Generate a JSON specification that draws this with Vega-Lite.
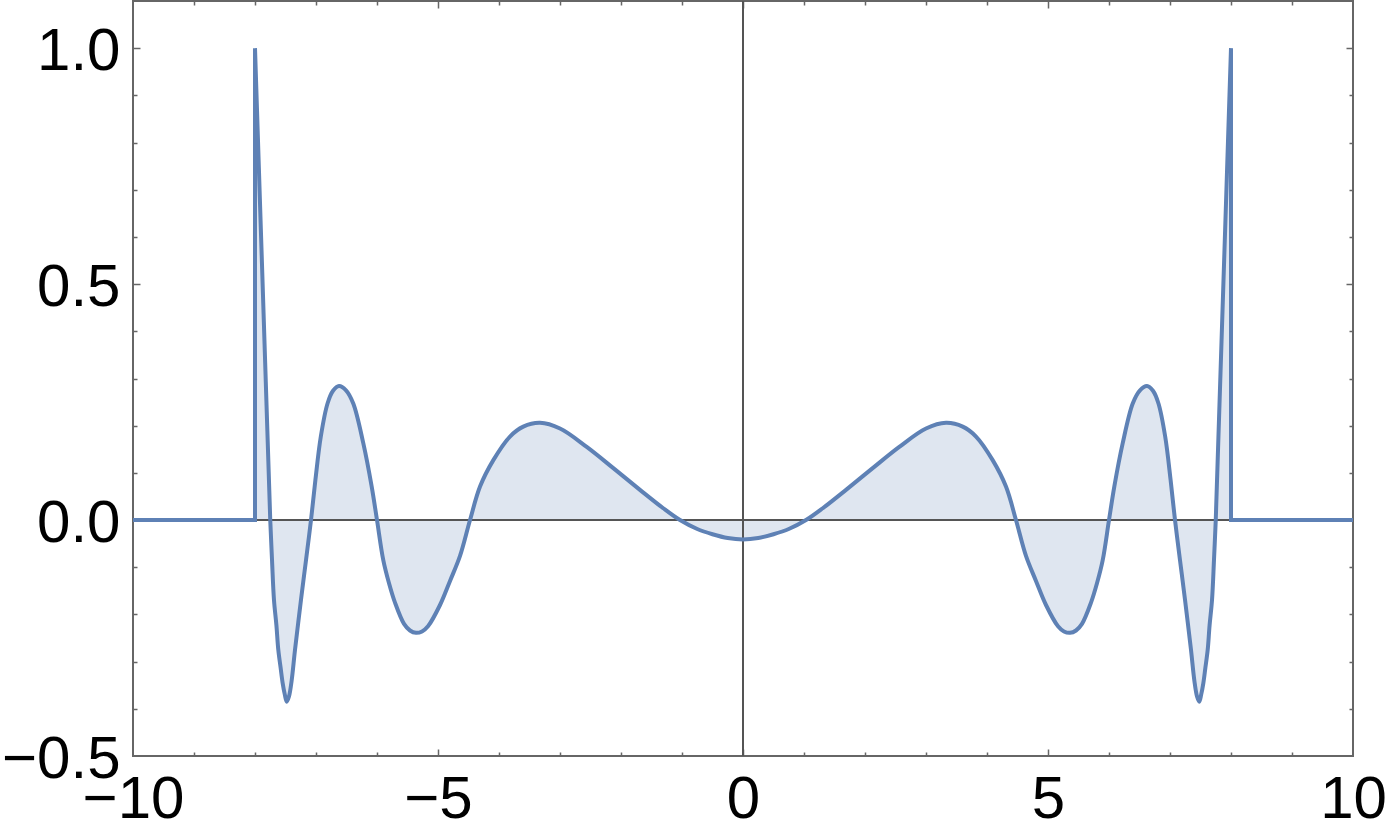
{
  "$schema": "https://vega.github.io/schema/vega-lite/v6.json",
  "autosize": "none",
  "width": 1220,
  "height": 755,
  "padding": {"left": 133, "top": 1, "right": 36, "bottom": 80},
  "background": "white",
  "config": {
    "view": {"stroke": "#666666", "strokeWidth": 2},
    "axis": {"labelFont": "Liberation Sans", "labelFontSize": 60, "labelColor": "black", "title": null, "grid": false, "domain": false}
  },
  "data": {"values": [
    {"x": -10, "y": 0},
    {"x": -8.0, "y": 0},
    {"x": -8.0, "y": 1.0},
    {"x": -7.75, "y": 0},
    {"x": -7.721, "y": -0.085},
    {"x": -7.689, "y": -0.169},
    {"x": -7.649, "y": -0.223},
    {"x": -7.618, "y": -0.275},
    {"x": -7.58, "y": -0.313},
    {"x": -7.546, "y": -0.346},
    {"x": -7.511, "y": -0.37},
    {"x": -7.48, "y": -0.385},
    {"x": -7.443, "y": -0.374},
    {"x": -7.4, "y": -0.341},
    {"x": -7.344, "y": -0.275},
    {"x": -7.246, "y": -0.169},
    {"x": -7.164, "y": -0.085},
    {"x": -7.082, "y": 0},
    {"x": -7.01, "y": 0.085},
    {"x": -6.921, "y": 0.177},
    {"x": -6.811, "y": 0.247},
    {"x": -6.721, "y": 0.274},
    {"x": -6.623, "y": 0.284},
    {"x": -6.508, "y": 0.275},
    {"x": -6.389, "y": 0.247},
    {"x": -6.225, "y": 0.163},
    {"x": -6.087, "y": 0.071},
    {"x": -6.0, "y": 0},
    {"x": -5.897, "y": -0.085},
    {"x": -5.803, "y": -0.134},
    {"x": -5.705, "y": -0.175},
    {"x": -5.557, "y": -0.22},
    {"x": -5.459, "y": -0.234},
    {"x": -5.361, "y": -0.239},
    {"x": -5.262, "y": -0.236},
    {"x": -5.164, "y": -0.225},
    {"x": -4.967, "y": -0.18},
    {"x": -4.803, "y": -0.129},
    {"x": -4.639, "y": -0.076},
    {"x": -4.475, "y": 0},
    {"x": -4.311, "y": 0.071},
    {"x": -4.093, "y": 0.127},
    {"x": -3.82, "y": 0.177},
    {"x": -3.602, "y": 0.198},
    {"x": -3.328, "y": 0.206},
    {"x": -3.0, "y": 0.194},
    {"x": -2.562, "y": 0.155},
    {"x": -2.126, "y": 0.11},
    {"x": -1.689, "y": 0.064},
    {"x": -1.307, "y": 0.025},
    {"x": -1.033, "y": 0},
    {"x": -0.75, "y": -0.019},
    {"x": -0.5, "y": -0.03},
    {"x": -0.25, "y": -0.038},
    {"x": 0, "y": -0.041},
    {"x": 0.25, "y": -0.038},
    {"x": 0.5, "y": -0.03},
    {"x": 0.75, "y": -0.019},
    {"x": 1.033, "y": 0},
    {"x": 1.307, "y": 0.025},
    {"x": 1.689, "y": 0.064},
    {"x": 2.126, "y": 0.11},
    {"x": 2.562, "y": 0.155},
    {"x": 3.0, "y": 0.194},
    {"x": 3.328, "y": 0.206},
    {"x": 3.602, "y": 0.198},
    {"x": 3.82, "y": 0.177},
    {"x": 4.093, "y": 0.127},
    {"x": 4.311, "y": 0.071},
    {"x": 4.475, "y": 0},
    {"x": 4.639, "y": -0.076},
    {"x": 4.803, "y": -0.129},
    {"x": 4.967, "y": -0.18},
    {"x": 5.164, "y": -0.225},
    {"x": 5.262, "y": -0.236},
    {"x": 5.361, "y": -0.239},
    {"x": 5.459, "y": -0.234},
    {"x": 5.557, "y": -0.22},
    {"x": 5.705, "y": -0.175},
    {"x": 5.803, "y": -0.134},
    {"x": 5.897, "y": -0.085},
    {"x": 6.0, "y": 0},
    {"x": 6.087, "y": 0.071},
    {"x": 6.225, "y": 0.163},
    {"x": 6.389, "y": 0.247},
    {"x": 6.508, "y": 0.275},
    {"x": 6.623, "y": 0.284},
    {"x": 6.721, "y": 0.274},
    {"x": 6.811, "y": 0.247},
    {"x": 6.921, "y": 0.177},
    {"x": 7.01, "y": 0.085},
    {"x": 7.082, "y": 0},
    {"x": 7.164, "y": -0.085},
    {"x": 7.246, "y": -0.169},
    {"x": 7.344, "y": -0.275},
    {"x": 7.4, "y": -0.341},
    {"x": 7.443, "y": -0.374},
    {"x": 7.48, "y": -0.385},
    {"x": 7.511, "y": -0.37},
    {"x": 7.546, "y": -0.346},
    {"x": 7.58, "y": -0.313},
    {"x": 7.618, "y": -0.275},
    {"x": 7.649, "y": -0.223},
    {"x": 7.689, "y": -0.169},
    {"x": 7.721, "y": -0.085},
    {"x": 7.75, "y": 0},
    {"x": 8.0, "y": 1.0},
    {"x": 8.0, "y": 0},
    {"x": 10, "y": 0}
  ]},
  "resolve": {"axis": {"x": "independent", "y": "independent"}},
  "layer": [
    {
      "transform": [{"filter": "abs(datum.x) <= 7.75"}],
      "mark": {"type": "area", "color": "#5E81B5", "opacity": 0.2, "interpolate": "catmull-rom"},
      "encoding": {
        "x": {"field": "x", "type": "quantitative",
              "scale": {"domain": [-10, 10], "nice": false, "zero": false},
              "axis": {"orient": "bottom", "values": [-10, -5, 0, 5, 10], "format": "d", "ticks": false, "labelPadding": 14, "labelFlush": false, "labelOverlap": false, "title": null}},
        "y": {"field": "y", "type": "quantitative",
              "scale": {"domain": [-0.5, 1.1], "nice": false, "zero": false},
              "axis": {"orient": "left", "values": [-0.5, 0, 0.5, 1], "format": ".1f", "ticks": false, "labelPadding": 13, "labelOffset": 3, "labelOverlap": false, "title": null}},
        "y2": {"datum": 0}
      }
    },
    {
      "transform": [{"filter": "datum.x <= -7.75"}],
      "mark": {"type": "area", "color": "#5E81B5", "opacity": 0.2},
      "encoding": {
        "x": {"field": "x", "type": "quantitative", "axis": null},
        "y": {"field": "y", "type": "quantitative", "axis": null},
        "y2": {"datum": 0}
      }
    },
    {
      "transform": [{"filter": "datum.x >= 7.75"}],
      "mark": {"type": "area", "color": "#5E81B5", "opacity": 0.2},
      "encoding": {
        "x": {"field": "x", "type": "quantitative", "axis": null},
        "y": {"field": "y", "type": "quantitative", "axis": null},
        "y2": {"datum": 0}
      }
    },
    {
      "mark": {"type": "rule", "color": "#555555", "strokeWidth": 1},
      "encoding": {
        "y": {"datum": 0, "type": "quantitative",
              "axis": {"orient": "left", "values": [-0.4, -0.3, -0.2, -0.1, 0, 0.1, 0.2, 0.3, 0.4, 0.5, 0.6, 0.7, 0.8, 0.9, 1.0], "labels": false, "ticks": true, "tickColor": "#666666", "tickWidth": 1.5,
                       "tickSize": {"condition": {"test": "abs(datum.value * 2 - round(datum.value * 2)) < 0.001", "value": -7}, "value": -4}, "title": null}}
      }
    },
    {
      "mark": {"type": "rule", "color": "#555555", "strokeWidth": 1},
      "encoding": {
        "x": {"datum": 0, "type": "quantitative",
              "axis": {"orient": "bottom", "values": [-9, -8, -7, -6, -5, -4, -3, -2, -1, 0, 1, 2, 3, 4, 5, 6, 7, 8, 9], "labels": false, "ticks": true, "tickColor": "#666666", "tickWidth": 1.5,
                       "tickSize": {"condition": {"test": "datum.value % 5 === 0", "value": -7}, "value": -4}, "title": null}}
      }
    },
    {
      "transform": [{"filter": "abs(datum.x) <= 7.75"}],
      "mark": {"type": "line", "color": "#5E81B5", "strokeWidth": 4, "interpolate": "catmull-rom"},
      "encoding": {
        "x": {"field": "x", "type": "quantitative",
              "axis": {"orient": "top", "values": [-9, -8, -7, -6, -5, -4, -3, -2, -1, 0, 1, 2, 3, 4, 5, 6, 7, 8, 9], "labels": false, "ticks": true, "tickColor": "#666666", "tickWidth": 1.5,
                       "tickSize": {"condition": {"test": "datum.value % 5 === 0", "value": -7}, "value": -4}, "title": null}},
        "y": {"field": "y", "type": "quantitative",
              "axis": {"orient": "right", "values": [-0.4, -0.3, -0.2, -0.1, 0, 0.1, 0.2, 0.3, 0.4, 0.5, 0.6, 0.7, 0.8, 0.9, 1.0], "labels": false, "ticks": true, "tickColor": "#666666", "tickWidth": 1.5,
                       "tickSize": {"condition": {"test": "abs(datum.value * 2 - round(datum.value * 2)) < 0.001", "value": -7}, "value": -4}, "title": null}}
      }
    },
    {
      "transform": [{"filter": "datum.x <= -7.75"}],
      "mark": {"type": "line", "color": "#5E81B5", "strokeWidth": 4},
      "encoding": {
        "x": {"field": "x", "type": "quantitative", "axis": null},
        "y": {"field": "y", "type": "quantitative", "axis": null}
      }
    },
    {
      "transform": [{"filter": "datum.x >= 7.75"}],
      "mark": {"type": "line", "color": "#5E81B5", "strokeWidth": 4},
      "encoding": {
        "x": {"field": "x", "type": "quantitative", "axis": null},
        "y": {"field": "y", "type": "quantitative", "axis": null}
      }
    }
  ]
}
